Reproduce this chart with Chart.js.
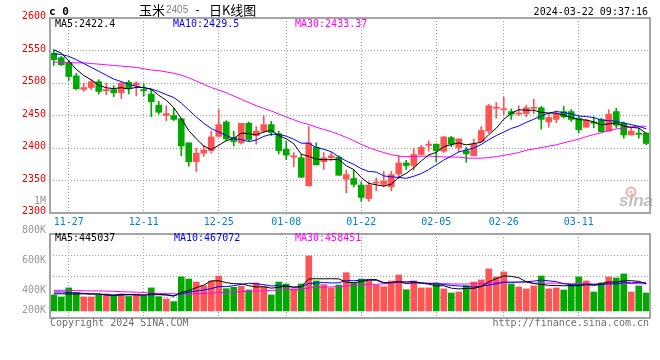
<!DOCTYPE html>
<html><head><meta charset="utf-8">
<script src="https://cdn.jsdelivr.net/npm/chart.js@4.4.1/dist/chart.umd.min.js"></script>
<style>
html,body{margin:0;padding:0;background:#fff;overflow:hidden}
#wrap{position:relative;width:660px;height:360px;background:#fff}
canvas{position:absolute;left:0;top:0}
</style></head><body>
<div id="wrap"><canvas id="price" width="660" height="360"></canvas><canvas id="vol" width="660" height="360"></canvas></div>
<script>
// ---- data ----
const dates = ['11-23','11-24','11-27','11-28','11-29','11-30','12-01','12-04','12-05','12-06','12-07','12-08',
 '12-11','12-12','12-13','12-14','12-15','12-18','12-19','12-20','12-21','12-22','12-25','12-26','12-27','12-28','12-29',
 '01-02','01-03','01-04','01-05','01-08','01-09','01-10','01-11','01-12','01-15','01-16','01-17','01-18','01-19',
 '01-22','01-23','01-24','01-25','01-26','01-29','01-30','01-31','02-01','02-02','02-05','02-06','02-07','02-08',
 '02-19','02-20','02-21','02-22','02-23','02-26','02-27','02-28','02-29','03-01','03-04','03-05','03-06','03-07','03-08',
 '03-11','03-12','03-13','03-14','03-15','03-18','03-19','03-20','03-21','03-22'];
const tickDates = ['11-27','12-11','12-25','01-08','01-22','02-05','02-26','03-11'];

const opens = [2546,2539,2532,2511,2490,2493,2502,2488,2490,2485,2501,2497,2490,2483,2466,2450,2450,2445,2408,2379,2392,2396,2418,
 2440,2416,2408,2438,2419,2426,2436,2422,2398,2386,2385,2342,2401,2379,2385,2386,2352,2353,2343,2322,2346,2344,2340,2360,2377,2373,2390,2404,2406,
 2395,2416,2400,2396,2388,2410,2426,2461,2459,2456,2452,2453,2461,2462,2440,2444,2456,2456,2446,2432,2440,2444,2426,2456,2438,2420,2422,2423];
const highs = [2551,2541,2535,2515,2500,2505,2505,2500,2496,2502,2504,2502,2499,2490,2472,2465,2461,2446,2408,2400,2404,2426,2459,
 2442,2426,2438,2440,2433,2450,2441,2426,2411,2393,2390,2433,2408,2393,2393,2388,2366,2366,2348,2348,2354,2364,2364,2388,2381,2400,2404,2411,2406,
 2418,2418,2414,2401,2414,2433,2467,2470,2478,2460,2465,2466,2475,2464,2453,2457,2464,2459,2449,2444,2448,2446,2459,2461,2440,2431,2431,2423];
const lows = [2527,2527,2504,2490,2487,2490,2483,2482,2479,2476,2483,2480,2480,2448,2452,2442,2442,2388,2372,2364,2387,2392,2417,
 2411,2403,2406,2411,2406,2424,2419,2391,2382,2371,2355,2341,2374,2367,2381,2358,2331,2340,2318,2318,2334,2340,2334,2353,2367,2366,2389,2395,2379,
 2393,2402,2394,2378,2388,2409,2423,2446,2451,2444,2450,2448,2453,2429,2432,2439,2446,2441,2423,2432,2431,2425,2426,2431,2415,2420,2415,2405];
const closes = [2536,2528,2510,2491,2493,2502,2487,2490,2485,2500,2492,2500,2488,2471,2455,2453,2444,2403,2379,2392,2397,2417,2436,
 2414,2410,2438,2413,2426,2436,2424,2396,2389,2388,2355,2408,2374,2385,2388,2358,2359,2344,2324,2343,2347,2349,2359,2377,2373,2390,2401,2406,2396,
 2417,2406,2414,2391,2406,2427,2465,2463,2460,2452,2454,2462,2462,2444,2447,2452,2448,2444,2428,2443,2438,2425,2452,2435,2420,2426,2421,2407];

const ma5 = [2551,2546,2534,2521,2511.6,2504.8,2496.6,2492.6,2491.4,2492.8,2490.8,2493.4,2493,2490.2,2481.2,2473.4,2462.2,2445.2,2426.8,2414.2,
 2403,2397.6,2404.2,2411.2,2414.8,2423,2422.2,2420.2,2424.6,2427.4,2419,2414.2,2406.6,2390.4,2387.2,2382.8,2382,2382,2382.6,2372.8,
 2366.8,2354.6,2345.6,2343.4,2341.4,2344.4,2355,2361,2369.6,2380,2389.4,2393.2,2402,2405.2,2407.8,2404.8,2406.8,2408.8,2420.6,2430.4,
 2444.2,2453.4,2458.8,2458.2,2458,2454.8,2453.8,2453.4,2450.6,2447,2443.8,2443,2440.2,2435.6,2437.2,2438.6,2434,2431.6,2430.8,2422.4];
const ma10 = [2545,2544,2541,2536,2530,2524,2518,2512,2506,2502.2,2497.8,2495,2492.8,2490.8,2487,2482.1,2477.8,2469.1,2458.5,2447.7,
 2438.2,2429.9,2424.7,2419,2414.5,2413,2409.9,2412.2,2417.9,2421.1,2421,2418.2,2413.4,2407.5,2407.3,2400.9,2398.1,2394.3,2386.5,2380,
 2374.8,2368.3,2363.8,2363,2357.1,2355.6,2354.8,2353.3,2356.5,2360.7,2366.9,2374.1,2381.5,2387.4,2393.9,2397.1,2400,2405.4,2412.9,2419.1,
 2424.5,2430.1,2433.8,2439.4,2444.2,2449.5,2453.6,2456.1,2454.4,2452.5,2449.3,2448.4,2446.8,2443.1,2442.1,2441.2,2438.5,2435.9,2433.2,2429.5];
const ma30 = [2532,2532,2531,2531,2531,2530,2529,2528,2527,2526,2525,2524,2522,2520,2519,2517,2515,2512,2508,2503,
 2498,2493,2489,2485,2480,2475,2470,2465,2461,2457,2452.3,2447.7,2443.6,2439.1,2436.3,2432,2428.6,2425.2,2421,2416.3,
 2411.3,2405.5,2400.6,2396.5,2393,2389.8,2387.6,2386.6,2387,2387.3,2387.6,2386.9,2386.2,2386,2386.1,2384.5,2384.3,2384.3,2385.3,2386.6,
 2388.7,2390.8,2393,2396.6,2398.4,2400.7,2402.8,2404.9,2407.9,2410.8,2413.6,2417.5,2420.7,2423.3,2426.7,2429.3,2430.7,2432.5,2433.5,2433.37];

// volumes in thousands (K)
const volumes = [370,357,417,387,357,357,370,377,370,377,360,370,363,417,359,343,326,490,476,456,
 432,463,496,412,421,428,403,450,425,370,456,443,412,443,629,463,439,417,436,518,
 448,476,463,436,425,463,503,405,463,417,417,450,410,383,390,432,456,470,543,490,
 523,443,423,410,430,496,410,417,403,436,490,463,390,450,490,483,510,390,430,383];
const volMa5 = [378,378,376,376,377.6,375,377.6,369.6,366.2,370.2,370.8,370.8,368,377.4,373.8,370.4,361.6,387,398.8,418.2,
 436,463.4,464.6,451.8,444.8,444,432,422.8,425.4,415.2,420.8,428.8,421.2,424.8,476.6,478,477.2,478.2,476.8,454.6,
 451.6,459,468.2,468.2,449.6,452.6,458,446.4,451.8,450.2,441,430.4,431.4,415.4,410,413,414.2,426.2,458.2,478.2,
 496.4,493.8,484.4,457.8,445.8,440.4,433.8,432.6,431.2,432.4,431.2,441.8,436.4,445.8,456.6,455.2,464.6,464.6,460.6,445.0];
const volMa10 = [390,390,386,383,381,378,375,372,370,373.9,372.9,374.2,368.8,371.8,372,370.6,366.2,377.5,388.1,396,
 403.2,412.5,425.8,425.3,431.5,440,447.7,443.7,438.6,430,432.4,430.4,422,425.1,445.9,449.4,453,449.7,450.8,465.6,
 464.8,468.1,473.2,472.5,452.1,452.1,458.5,457.3,460,449.9,446.8,444.2,438.9,433.6,430.1,427,422.3,428.8,436.8,444.1,
 454.7,454,455.3,458,462,468.4,463.8,458.5,444.5,439.1,435.8,437.8,434.5,438.5,444.5,443.2,453.2,450.5,453.2,450.0];
const volMa30 = [401,401,400,399,398,397,397,396,394,392,390,389,386,383,380,379,378,377,377,378,
 380,383,386,388,390,392,394,396,398,400,402.8,405.7,405.5,407.4,416.5,420,422.3,423.6,425.8,430.5,
 433.5,437,440.3,441,443.2,447.2,453.1,450.2,449.8,448.5,448,447.6,444.7,443.7,442.7,442.8,444.6,445.3,449.2,453.2,
 455.4,455.4,455.8,454.7,448.1,449.2,448.2,448.2,447.1,444.4,445.8,445.3,442.9,443.4,445.5,446.2,446.4,445.9,444.8,443.7];

const priceTicks = {min: 2300, max: 2600, step: 50};
const volAxis = {min: 217, max: 775, base: 264};
const volTickValues = [800, 600, 400, 200];

const titleParts = [['玉米','cjk'],['2405','num'],[' - ','dash'],['日K线图','cjk']];
const stamp = '2024-03-22 09:37:16';
const priceMaText = ['MA5:2422.4','MA10:2429.5','MA30:2433.37'];
const volMaText = ['MA5:445037','MA10:467072','MA30:458451'];

// ---- styles ----
const RED = '#ff5454', GREEN = '#00a800';
const MONO = '"DejaVu Sans Mono", monospace';
const GRID = '#a0a0a0';
const colorAt = i => closes[i] >= opens[i] ? RED : GREEN;

function txt(ctx, s, x, y, font, color, align, base) {
  ctx.save(); ctx.font = font; ctx.fillStyle = color;
  ctx.textAlign = align || 'left'; ctx.textBaseline = base || 'middle';
  ctx.fillText(s, x, y); ctx.restore();
}
const borderPlugin = {
  id: 'panelBorder',
  afterDraw(chart) {
    const a = chart.chartArea, ctx = chart.ctx;
    ctx.save(); ctx.strokeStyle = '#a4a4a4'; ctx.lineWidth = 2;
    ctx.strokeRect(a.left, a.top, a.right - a.left, a.bottom - a.top);
    ctx.restore();
  }
};
const keepDateTicks = s => { s.ticks = s.ticks.filter(t => tickDates.includes(dates[t.value])); };

const priceText = {
  id: 'priceText',
  afterDraw(chart) {
    const ctx = chart.ctx, a = chart.chartArea;
    txt(ctx, 'c 0', 49, 12, 'bold 11px ' + MONO, '#000');
    let x = 139;
    const fonts = {cjk: '13px "Noto Sans CJK SC"', num: '10px "Liberation Sans"', dash: '12px "Liberation Sans"'};
    const cols = {cjk: '#000', num: '#808080', dash: '#000'};
    titleParts.forEach(([s, k]) => {
      ctx.save(); ctx.font = fonts[k]; const w = ctx.measureText(s).width; ctx.restore();
      txt(ctx, s, x, 10.5, fonts[k], cols[k]);
      x += w + (k === 'num' ? 4 : (k === 'dash' ? 6 : 1));
    });
    txt(ctx, stamp, 648, 12, '10px ' + MONO, '#000', 'right');
    txt(ctx, priceMaText[0], a.left + 5, 24, '10px ' + MONO, '#000');
    txt(ctx, priceMaText[1], a.left + 123, 24, '10px ' + MONO, '#0000ff');
    txt(ctx, priceMaText[2], a.left + 245, 24, '10px ' + MONO, '#ff00ff');
    txt(ctx, '1M', a.left - 4, 201, '10px ' + MONO, '#999', 'right');
    // sina watermark
    ctx.save();
    ctx.strokeStyle = 'rgba(236,110,110,0.55)'; ctx.lineWidth = 2;
    ctx.beginPath(); ctx.arc(631, 192, 4.5, 0, Math.PI * 2); ctx.stroke();
    ctx.fillStyle = 'rgba(236,110,110,0.5)'; ctx.beginPath(); ctx.arc(631, 192, 1.6, 0, Math.PI * 2); ctx.fill();
    ctx.restore();
    txt(ctx, 'sina', 619, 206, 'italic bold 17px "Liberation Sans"', 'rgba(150,150,150,0.6)', 'left', 'alphabetic');
  }
};
const volText = {
  id: 'volText',
  afterDraw(chart) {
    const ctx = chart.ctx, a = chart.chartArea, ys = chart.scales.y;
    txt(ctx, volMaText[0], a.left + 5, 238.5, '10px ' + MONO, '#000');
    txt(ctx, volMaText[1], a.left + 124, 238.5, '10px ' + MONO, '#0000ff');
    txt(ctx, volMaText[2], a.left + 245, 238.5, '10px ' + MONO, '#ff00ff');
    volTickValues.forEach(v => {
      const y = Math.min(ys.getPixelForValue(v), a.bottom - 7.3);
      txt(ctx, v + 'K', a.left - 4, y, '10px ' + MONO, '#999', 'right');
    });
    txt(ctx, 'Copyright 2024 SINA.COM', 50, 323.5, '10px ' + MONO, '#707070');
    txt(ctx, 'http://finance.sina.com.cn', 649, 323.5, '10px ' + MONO, '#707070', 'right');
  }
};

const lineDs = (data, color) => ({type: 'line', data, borderColor: color, borderWidth: 1, pointRadius: 0, tension: 0, order: 0});
const common = {
  responsive: false, animation: false, devicePixelRatio: 1,
  datasets: {bar: {grouped: false, borderWidth: 0}},
  plugins: {legend: {display: false}, tooltip: {enabled: false}}
};

new Chart(document.getElementById('price'), {
  type: 'bar',
  data: {
    labels: dates,
    datasets: [
      lineDs(ma5, '#000000'), lineDs(ma10, '#0000ff'), lineDs(ma30, '#ff00ff'),
      {data: lows.map((l, i) => [l, highs[i]]), backgroundColor: c => colorAt(c.dataIndex), barThickness: 1, order: 2},
      {data: opens.map((o, i) => [o, closes[i]]), backgroundColor: c => colorAt(c.dataIndex), barThickness: 6, minBarLength: 1, order: 1}
    ]
  },
  options: Object.assign({}, common, {
    layout: {padding: {left: 0, right: 10, top: 18, bottom: 132}},
    scales: {
      x: {
        offset: true,
        grid: {offset: false, color: GRID, lineWidth: 1, drawTicks: false},
        border: {display: false, dash: [1, 2]},
        ticks: {autoSkip: false, maxRotation: 0, color: '#0080cc', font: {family: MONO, size: 10}, padding: 3},
        afterBuildTicks: keepDateTicks,
        afterFit: s => { s.height = 15; }
      },
      y: {
        min: priceTicks.min, max: priceTicks.max,
        grid: {color: GRID, lineWidth: 1, drawTicks: false},
        border: {display: false, dash: [1, 2]},
        ticks: {stepSize: priceTicks.step, color: '#e80000', font: {family: MONO, size: 10}, padding: 4, labelOffset: -1.5,
                callback: v => String(v)},
        afterFit: s => { s.width = 50; }
      }
    }
  }),
  plugins: [borderPlugin, priceText]
});

new Chart(document.getElementById('vol'), {
  type: 'bar',
  data: {
    labels: dates,
    datasets: [
      lineDs(volMa5, '#000000'), lineDs(volMa10, '#0000ff'), lineDs(volMa30, '#ff00ff'),
      {data: volumes.map(v => [volAxis.base, v]), backgroundColor: c => colorAt(c.dataIndex), barThickness: 6, order: 1}
    ]
  },
  options: Object.assign({}, common, {
    layout: {padding: {left: 0, right: 10, top: 234, bottom: 42}},
    scales: {
      x: {
        offset: true,
        grid: {offset: false, color: GRID, lineWidth: 1, drawTicks: false},
        border: {display: false, dash: [1, 2]},
        ticks: {display: false, autoSkip: false},
        afterBuildTicks: keepDateTicks,
        afterFit: s => { s.height = 0; }
      },
      y: {
        min: volAxis.min, max: volAxis.max,
        grid: {color: GRID, lineWidth: 1, drawTicks: false},
        border: {display: false, dash: [1, 2]},
        ticks: {display: false},
        afterBuildTicks: s => { s.ticks = [0, 1, 2, 3, 4].map(k => ({value: s.min + k * (s.max - s.min) / 4})); },
        afterFit: s => { s.width = 50; }
      }
    }
  }),
  plugins: [borderPlugin, volText]
});
</script>
</body></html>
